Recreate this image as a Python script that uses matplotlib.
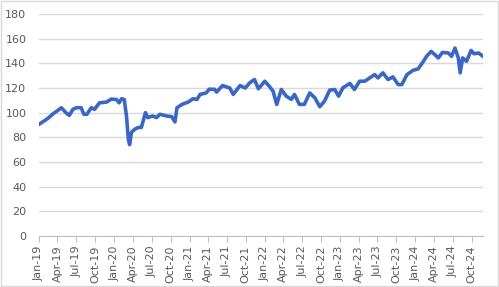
import pandas as pd
import matplotlib
matplotlib.use("Agg")
import matplotlib.pyplot as plt
import matplotlib.dates as mdates
from matplotlib.patches import Rectangle

# values
dates = [
    "2019-01-01", "2019-02-07", "2019-02-25", "2019-03-10", "2019-04-10", "2019-04-20",
    "2019-05-12", "2019-05-28", "2019-06-15", "2019-07-01", "2019-07-25", "2019-08-07",
    "2019-08-22", "2019-09-12", "2019-09-28", "2019-10-22", "2019-11-25", "2019-12-18",
    "2020-01-12", "2020-01-25", "2020-02-06", "2020-02-19", "2020-03-01", "2020-03-10",
    "2020-03-16", "2020-03-25", "2020-04-10", "2020-04-28", "2020-05-12", "2020-06-01",
    "2020-06-12", "2020-07-06", "2020-07-25", "2020-08-10", "2020-09-12", "2020-10-06",
    "2020-10-22", "2020-11-01", "2020-11-25", "2020-12-25", "2021-01-18", "2021-02-06",
    "2021-02-21", "2021-03-22", "2021-04-06", "2021-05-01", "2021-05-12", "2021-06-10",
    "2021-07-15", "2021-08-01", "2021-09-03", "2021-09-28", "2021-10-20", "2021-11-12",
    "2021-12-01", "2022-01-01", "2022-01-25", "2022-02-10", "2022-02-28", "2022-03-22",
    "2022-04-15", "2022-05-10", "2022-05-25", "2022-06-18", "2022-07-12", "2022-08-07",
    "2022-09-01", "2022-09-25", "2022-10-18", "2022-11-12", "2022-12-06", "2022-12-25",
    "2023-01-15", "2023-02-18", "2023-03-12", "2023-04-06", "2023-05-01", "2023-05-25",
    "2023-06-18", "2023-07-04", "2023-07-28", "2023-08-22", "2023-09-15", "2023-10-10",
    "2023-10-28", "2023-11-22", "2023-12-22", "2024-01-15", "2024-02-10", "2024-02-25",
    "2024-03-18", "2024-04-06", "2024-04-22", "2024-05-12", "2024-06-10", "2024-06-25",
    "2024-07-12", "2024-07-28", "2024-08-06", "2024-08-18", "2024-09-06", "2024-09-28",
    "2024-10-12", "2024-11-03", "2024-11-25",
]
values = [
    90.5, 94.6, 97.0, 99.0, 102.7, 104.0,
    100.0, 97.8, 102.7, 104.0, 104.0, 98.7,
    98.7, 104.0, 102.7, 108.0, 108.6, 111.0,
    110.7, 108.0, 111.3, 110.7, 97.0, 78.5,
    74.0, 84.0, 86.6, 88.0, 88.0, 100.0,
    96.0, 97.3, 96.0, 98.7, 97.3, 96.8,
    92.5, 104.0, 106.7, 108.6, 111.3, 110.7,
    114.8, 116.0, 119.0, 119.0, 116.7, 122.0,
    120.0, 114.8, 122.0, 120.0, 124.2, 126.9,
    119.4, 125.5, 121.0, 117.5, 106.7, 118.8,
    113.4, 110.8, 114.8, 106.7, 106.7, 116.0,
    112.0, 104.8, 109.4, 118.3, 118.8, 113.4,
    120.2, 123.7, 118.8, 125.5, 125.5, 128.2,
    130.9, 128.2, 132.3, 126.9, 129.0, 122.8,
    122.8, 130.9, 134.4, 135.5, 141.7, 145.7,
    149.7, 147.0, 144.4, 148.9, 148.4, 145.7,
    152.4, 144.4, 132.3, 144.4, 141.7, 150.5,
    147.8, 148.4, 145.7,
]
y_ticks = [0, 20, 40, 60, 80, 100, 120, 140, 160, 180]

df = pd.DataFrame({"date": pd.to_datetime(dates), "value": values})

txt = "#595959"
grid = "#D9D9D9"

fig = plt.figure(figsize=(4.99, 2.87), dpi=100)
ax = fig.add_axes([0.078, 0.178, 0.89, 0.773])

ax.plot(df["date"], df["value"], color="#3A66C4", linewidth=2.6, solid_joinstyle="round")

ax.set_ylim(0, 180)
ax.set_yticks(y_ticks)
ax.set_xlim(df["date"].iloc[0], df["date"].iloc[-1])
ax.xaxis.set_major_locator(mdates.MonthLocator(bymonth=[1, 4, 7, 10]))
ax.xaxis.set_major_formatter(mdates.DateFormatter("%b-%y"))

ax.grid(axis="y", color=grid, linewidth=1)
ax.set_axisbelow(True)
for s in ["top", "right", "left"]:
    ax.spines[s].set_visible(False)
ax.spines["bottom"].set_color("#BFBFBF")
ax.tick_params(axis="y", length=0, pad=9, labelsize=8, labelcolor=txt)
ax.tick_params(axis="x", length=4, color="#BFBFBF", pad=3, labelsize=8,
               labelcolor=txt, labelrotation=90)

# light chart border like the spreadsheet chart area
fig.patches.append(Rectangle((0.002, 0.004), 0.995, 0.992, transform=fig.transFigure,
                             fill=False, edgecolor=grid, linewidth=1))

fig.savefig("out.png", dpi=100)
